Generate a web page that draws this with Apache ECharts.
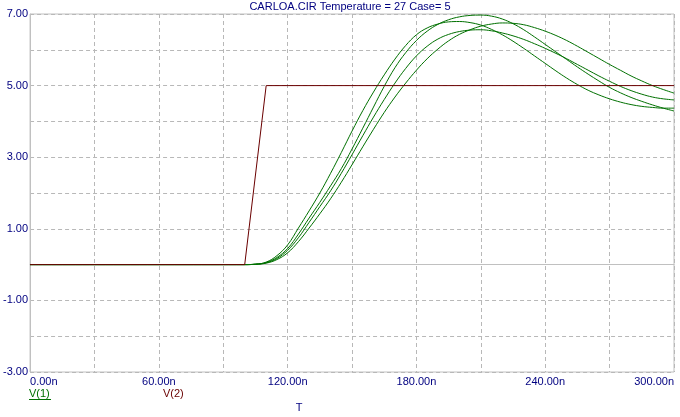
<!DOCTYPE html>
<html>
<head>
<meta charset="utf-8">
<script src="https://cdn.jsdelivr.net/npm/echarts@6/dist/echarts.min.js"></script>
<style>
html,body{margin:0;padding:0;background:#fff;}
#chart{width:680px;height:417px;}
</style>
</head>
<body>
<div id="chart"></div>
<script>
// Time points (ns) for the V(1) Monte Carlo cases
const times = [0, 100, 105, 110, 115, 120, 125, 130, 135, 140, 145, 150, 155, 160, 165, 170, 175, 180, 185, 190, 195, 200, 205, 210, 215, 220, 225, 230, 235, 240, 245, 250, 255, 260, 265, 270, 275, 280, 285, 290, 295, 300];

const v1CaseA = [0, 0, 0.01, 0.07, 0.25, 0.55, 1.02, 1.5, 2.0, 2.55, 3.13, 3.73, 4.3, 4.82, 5.3, 5.74, 6.12, 6.42, 6.61, 6.72, 6.78, 6.79, 6.76, 6.69, 6.57, 6.42, 6.24, 6.04, 5.83, 5.62, 5.41, 5.21, 5.03, 4.87, 4.74, 4.63, 4.54, 4.47, 4.42, 4.39, 4.37, 4.37];
const v1CaseB = [0, 0, 0.01, 0.06, 0.2, 0.45, 0.85, 1.3, 1.74, 2.2, 2.68, 3.23, 3.81, 4.4, 4.98, 5.5, 5.92, 6.26, 6.52, 6.71, 6.84, 6.92, 6.96, 6.97, 6.94, 6.86, 6.73, 6.56, 6.36, 6.15, 5.94, 5.73, 5.52, 5.32, 5.13, 4.95, 4.8, 4.67, 4.56, 4.46, 4.37, 4.29];
const v1CaseC = [0, 0, 0.01, 0.05, 0.17, 0.4, 0.75, 1.18, 1.62, 2.06, 2.55, 3.07, 3.6, 4.12, 4.61, 5.07, 5.48, 5.83, 6.1, 6.3, 6.43, 6.51, 6.55, 6.56, 6.53, 6.47, 6.39, 6.29, 6.17, 6.04, 5.9, 5.75, 5.59, 5.43, 5.27, 5.12, 4.98, 4.86, 4.76, 4.68, 4.63, 4.6];
const v1CaseD = [0, 0, 0.01, 0.04, 0.14, 0.33, 0.64, 1.02, 1.42, 1.84, 2.3, 2.79, 3.29, 3.78, 4.25, 4.68, 5.07, 5.43, 5.75, 6.02, 6.25, 6.43, 6.56, 6.66, 6.72, 6.75, 6.74, 6.7, 6.62, 6.52, 6.4, 6.26, 6.1, 5.93, 5.76, 5.59, 5.43, 5.27, 5.13, 5.0, 4.89, 4.79];

// V(2): input ramp
const v2Times = [0, 100, 110, 300];
const v2Values = [0, 0, 5, 5];

const xTickLabels = ['0.00n', '60.00n', '120.00n', '180.00n', '240.00n', '300.00n'];
const yTickLabels = ['-3.00', '-1.00', '1.00', '3.00', '5.00', '7.00'];
const titleText = 'CARLOA.CIR Temperature = 27 Case= 5';
const legendNames = ['V(1)', 'V(2)'];
const xAxisName = 'T';

const FONT = '"Liberation Sans", Arial, sans-serif';
const NAVY = '#000080';
const GREEN = '#007000';
const RED = '#6a0000';

function pair(xs, ys) { return xs.map((x, i) => [x, ys[i]]); }

const greenSeries = [v1CaseA, v1CaseB, v1CaseC, v1CaseD].map((arr, k) => ({
  type: 'line',
  name: 'V(1)#' + k,
  data: pair(times, arr),
  showSymbol: false,
  smooth: 0.4,
  lineStyle: { color: GREEN, width: 1 },
  itemStyle: { color: GREEN },
  animation: false,
  z: 2
}));

const chart = echarts.init(document.getElementById('chart'), null, { renderer: 'canvas' });
chart.setOption({
  animation: false,
  backgroundColor: '#ffffff',
  grid: {
    left: 30, top: 14, right: 6, bottom: 45,
    show: true, borderColor: '#c0c0c0', borderWidth: 1, containLabel: false
  },
  xAxis: {
    type: 'value', min: 0, max: 300, interval: 30,
    axisLine: { show: true, lineStyle: { color: '#c0c0c0', width: 1 } },
    axisTick: { show: false },
    splitLine: { show: true, lineStyle: { color: '#b8b8b8', type: [4, 3], width: 1 } },
    axisLabel: {
      color: NAVY, fontFamily: FONT, fontSize: 11, margin: 4,
      alignMinLabel: 'left', alignMaxLabel: 'right',
      formatter: function (v) {
        const i = xTickLabels.indexOf(v.toFixed(2) + 'n');
        return i >= 0 ? xTickLabels[i] : '';
      }
    }
  },
  yAxis: {
    type: 'value', min: -3, max: 7, interval: 1,
    axisLine: { show: true, lineStyle: { color: '#c0c0c0', width: 1 } },
    axisTick: { show: false },
    splitLine: { show: true, lineStyle: { color: '#b8b8b8', type: [4, 3], width: 1 } },
    axisLabel: {
      color: NAVY, fontFamily: FONT, fontSize: 11, margin: 2,
      formatter: function (v) {
        const s = v.toFixed(2);
        return yTickLabels.indexOf(s) >= 0 ? s : '';
      }
    }
  },
  graphic: [
    { type: 'text', x: 350, y: 1, style: { text: titleText, fill: NAVY, font: '11px ' + FONT, textAlign: 'center', textVerticalAlign: 'top' } },
    { type: 'text', x: 29, y: 388, style: { text: legendNames[0], fill: GREEN, font: '11px ' + FONT, textAlign: 'left', textVerticalAlign: 'top' } },
    { type: 'line', shape: { x1: 29, y1: 399.5, x2: 51, y2: 399.5 }, style: { stroke: GREEN, lineWidth: 1 } },
    { type: 'text', x: 163, y: 388, style: { text: legendNames[1], fill: RED, font: '11px ' + FONT, textAlign: 'left', textVerticalAlign: 'top' } },
    { type: 'text', x: 299, y: 402, style: { text: xAxisName, fill: NAVY, font: '11px ' + FONT, textAlign: 'center', textVerticalAlign: 'top' } }
  ],
  series: greenSeries.concat([{
    type: 'line',
    name: 'V(2)',
    data: pair(v2Times, v2Values),
    showSymbol: false,
    lineStyle: { color: RED, width: 1 },
    itemStyle: { color: RED },
    animation: false,
    z: 3
  }])
});
</script>
</body>
</html>
